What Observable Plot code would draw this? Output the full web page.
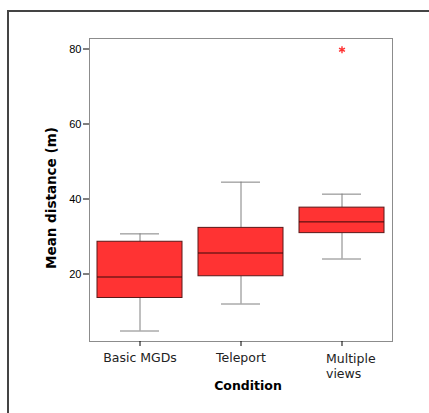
<!DOCTYPE html>
<html>
<head>
<meta charset="utf-8">
<script src="https://cdn.jsdelivr.net/npm/d3@7"></script>
<script src="https://cdn.jsdelivr.net/npm/@observablehq/plot@0.6"></script>
<style>
  html, body { margin: 0; padding: 0; background: #fff; overflow: hidden; }
  #wrap { position: relative; width: 429px; height: 413px; }
  #border { position: absolute; left: 7px; top: 10px; width: 440px; height: 420px; border: 2px solid #444; box-sizing: border-box; pointer-events: none; }
  svg { display: block; }
</style>
</head>
<body>
<div id="wrap"><div id="border"></div></div>
<script>
const conditions = ["Basic MGDs", "Teleport", "Multiple views"];
const lowerWhisker = [4.8, 12.0, 24.0];
const q1 = [13.6, 19.4, 30.9];
const median = [19.2, 25.6, 33.9];
const q3 = [28.6, 32.3, 37.7];
const upperWhisker = [30.7, 44.5, 41.3];
const outlierCondition = ["Multiple views"];
const outlierValue = [79.8];
const yTicks = [20, 40, 60, 80];

const boxes = conditions.map((c, i) => ({
  condition: c, lo: lowerWhisker[i], q1: q1[i], med: median[i], q3: q3[i], hi: upperWhisker[i]
}));
const outliers = outlierCondition.map((c, i) => ({condition: c, value: outlierValue[i]}));

const red = "#ff3333";
const boxStroke = "#5a1818";
const whisker = "#808080";

const chart = Plot.plot({
  width: 429,
  height: 413,
  marginLeft: 89,
  marginRight: 37,
  marginTop: 38,
  marginBottom: 72,
  style: {background: "transparent", fontFamily: "DejaVu Sans"},
  x: {domain: conditions, paddingInner: 0.16, paddingOuter: 0.08, label: null},
  y: {domain: [2.0, 82.8], label: null},
  marks: [
    Plot.frame({stroke: "#8c8c8c"}),
    Plot.ruleX(boxes, {x: "condition", y1: "lo", y2: "q1", stroke: whisker}),
    Plot.ruleX(boxes, {x: "condition", y1: "q3", y2: "hi", stroke: whisker}),
    Plot.tickY(boxes, {x: "condition", y: "lo", stroke: whisker, insetLeft: 23, insetRight: 23}),
    Plot.tickY(boxes, {x: "condition", y: "hi", stroke: whisker, insetLeft: 23, insetRight: 23}),
    Plot.barY(boxes, {x: "condition", y1: "q1", y2: "q3", fill: red, stroke: boxStroke, strokeWidth: 1}),
    Plot.tickY(boxes, {x: "condition", y: "med", stroke: "#3a0a0a", strokeWidth: 1}),
    Plot.dot(outliers, {x: "condition", y: "value", symbol: "asterisk", stroke: red, r: 3.2, strokeWidth: 1.4}),
    Plot.axisY({ticks: yTicks, tickSize: 6, tickPadding: 2, fontSize: 11, fontFamily: "Liberation Sans", label: null, stroke: "#000"}),
    Plot.axisX({tickSize: 5, tickFormat: () => "", label: null}),
    Plot.text(conditions.slice(0, 2), {x: d => d, frameAnchor: "bottom", dy: 16.5, lineAnchor: "middle", fontSize: 12.5, fill: "#222", fontFamily: "DejaVu Sans"}),
    Plot.text(conditions.slice(2), {x: d => d, text: d => d.replace(" ", "\n"), frameAnchor: "bottom", dy: 11.5, dx: -16, lineAnchor: "top", textAnchor: "start", lineHeight: 1.15, fontSize: 12.5, fill: "#222", fontFamily: "DejaVu Sans"}),
    Plot.text(["Condition"], {frameAnchor: "bottom", dy: 44, dx: 7, lineAnchor: "middle", textAnchor: "middle", fontSize: 12.5, fontWeight: "bold", fill: "#000", fontFamily: "DejaVu Sans"}),
    Plot.text(["Mean distance (m)"], {frameAnchor: "left", dx: -38, dy: 8, rotate: -90, lineAnchor: "middle", textAnchor: "middle", fontSize: 13.5, fontWeight: "bold", fill: "#000", fontFamily: "DejaVu Sans"})
  ]
});
document.getElementById("wrap").insertBefore(chart, document.getElementById("border"));
</script>
</body>
</html>
